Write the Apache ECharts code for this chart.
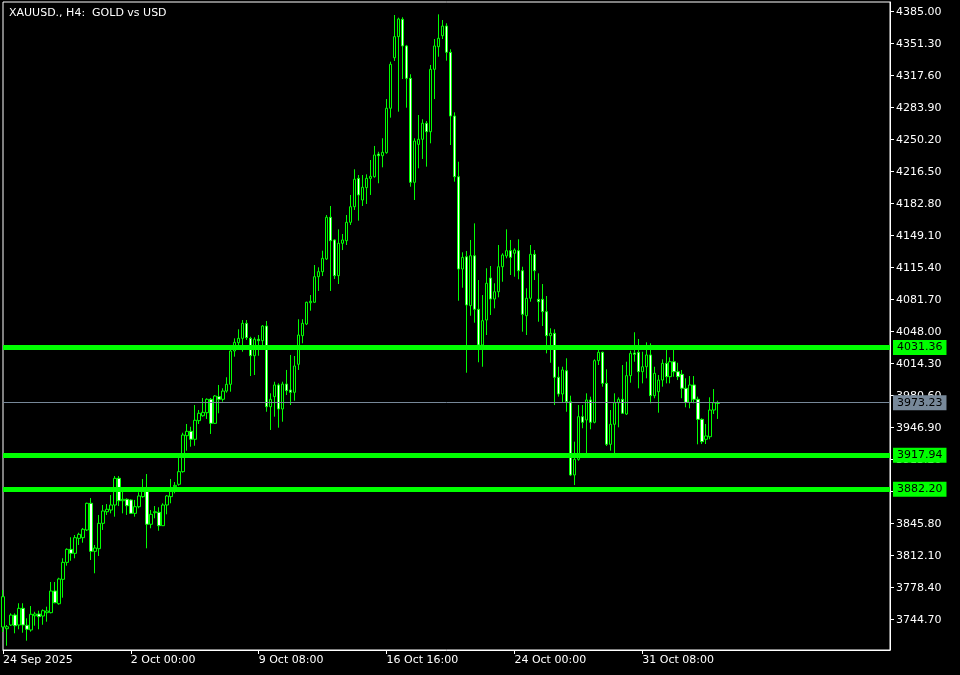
<!DOCTYPE html>
<html>
<head>
<meta charset="utf-8">
<style>
html,body{margin:0;padding:0;background:#000;}
#chart{width:960px;height:675px;}
</style>
<script src="https://cdn.jsdelivr.net/npm/echarts@6.0.0/dist/echarts.min.js"></script>
</head>
<body>
<div id="chart"></div>
<script>
// ---- data (XAUUSD H4, bars from 24 Sep 2025 16:00) ----
const openPrices = [
3737.0,3735.2,3739.1,3749.6,3739.1,3756.7,3738.8,3733.9,3748.9,3750.7,
3748.6,3752.1,3752.1,3774.9,3761.5,3787.2,3805.1,3818.8,3814.6,3830.4,
3831.1,3839.2,3867.3,3816.7,3819.5,3846.2,3858.4,3860.2,3865.5,3893.6,
3870.0,3871.5,3870.8,3856.7,3863.7,3874.3,3880.5,3845.2,3857.4,3857.8,
3843.7,3865.5,3874.3,3884.8,3887.3,3900.6,3938.5,3943.1,3934.7,3954.3,
3959.5,3962.7,3976.8,3951.5,3979.6,3976.8,3985.5,3992.6,4027.7,4036.4,
4041.0,4056.8,4041.0,4022.7,4040.0,4038.5,4054.0,3969.0,3979.6,3991.9,
3966.6,3992.9,3986.6,3984.2,4013.7,4043.8,4056.1,4078.5,4079.0,4105.9,
4111.2,4124.6,4168.5,4144.6,4107.0,4141.1,4143.8,4163.2,4179.6,4209.5,
4186.7,4199.7,4209.5,4211.2,4235.1,4233.3,4236.5,4283.3,4336.5,4358.7,
4377.0,4348.9,4314.8,4205.3,4245.3,4250.6,4267.5,4258.6,4324.3,4348.1,
4359.7,4369.9,4342.2,4275.1,4211.2,4114.0,4126.9,4075.4,4128.0,4071.6,
4034.0,4060.3,4104.5,4082.4,4090.1,4116.4,4127.7,4133.3,4130.6,4133.3,
4112.2,4064.8,4083.2,4129.5,4082.1,4082.1,4069.1,4043.8,4046.3,4000.0,
3982.4,4006.9,3974.3,3897.1,3913.6,3958.5,3955.0,3976.1,3952.6,4017.5,
4026.3,3993.6,3929.4,3950.5,3973.2,3976.8,3961.3,4001.7,4025.6,4026.3,
4005.9,4011.1,4023.5,3980.6,3984.8,3997.1,4014.7,4000.6,4016.4,4005.9,
4003.1,3988.4,3973.6,3991.9,3976.8,3955.7,3934.7,3937.4,3965.5,3972.4
];
const closePrices = [
3768.9,3737.3,3749.6,3738.4,3756.7,3739.1,3734.6,3750.4,3750.7,3747.9,
3754.2,3753.9,3774.9,3762.6,3787.6,3805.1,3818.8,3814.6,3831.1,3834.6,
3839.9,3867.3,3816.7,3820.2,3846.2,3859.2,3861.0,3865.5,3893.6,3870.0,
3871.5,3864.7,3856.7,3863.7,3875.0,3880.5,3845.2,3855.7,3858.4,3843.7,
3865.5,3875.0,3880.5,3886.2,3900.6,3939.2,3943.1,3934.7,3954.7,3962.1,
3963.1,3976.8,3951.5,3980.3,3976.8,3985.5,3992.6,4027.7,4036.8,4041.0,
4056.8,4041.7,4022.7,4040.0,4038.5,4054.0,3969.0,3976.8,3991.9,3966.6,
3992.9,3985.9,3984.2,4011.9,4044.5,4056.8,4079.0,4080.0,4105.9,4111.2,
4125.3,4168.5,4143.8,4107.0,4141.1,4144.6,4163.2,4179.6,4208.5,4192.0,
4200.1,4209.5,4211.6,4234.1,4233.3,4236.9,4283.3,4329.6,4358.7,4377.3,
4348.9,4314.8,4205.3,4248.8,4250.6,4267.5,4258.6,4324.3,4348.9,4357.0,
4369.9,4342.2,4275.1,4211.2,4114.0,4126.3,4076.1,4128.0,4071.6,4034.0,
4059.6,4099.0,4082.4,4090.1,4116.4,4128.8,4133.3,4126.3,4134.0,4112.2,
4066.3,4083.2,4129.5,4112.2,4079.6,4069.1,4043.8,4046.3,4000.0,3982.4,
4007.7,3974.3,3897.1,3913.6,3958.5,3952.6,3976.1,3952.6,4017.5,4026.3,
3993.6,3929.4,3950.5,3973.2,3976.8,3962.1,4001.7,4025.2,4024.2,4005.9,
4011.1,4023.5,3980.6,4004.2,3997.1,4014.7,4000.6,4016.4,4005.9,4000.6,
3988.4,3973.6,3991.9,3976.8,3955.7,3932.2,3938.2,3965.5,3973.2,3973.23
];
const lowPrices = [
3731.7,3717.3,3738.1,3730.4,3734.6,3731.0,3722.6,3732.1,3738.4,3734.6,
3739.4,3742.6,3751.4,3762.0,3760.5,3767.9,3801.6,3806.8,3809.4,3823.4,
3825.8,3838.1,3807.6,3793.6,3811.8,3839.2,3855.0,3856.7,3853.2,3864.4,
3856.7,3855.0,3856.0,3853.2,3862.0,3873.2,3819.9,3841.0,3851.5,3838.4,
3843.4,3855.7,3867.3,3877.8,3885.8,3899.5,3922.7,3926.9,3927.9,3950.8,
3958.5,3956.1,3940.3,3950.8,3962.1,3974.3,3983.8,3984.8,4021.7,4032.2,
4026.9,4039.3,4001.3,4002.4,4022.7,4034.0,3963.7,3944.5,3958.5,3946.9,
3953.2,3981.3,3970.8,3975.3,4007.7,4035.8,4055.0,4070.1,4078.5,4090.9,
4106.6,4123.5,4090.9,4103.5,4098.2,4134.0,4139.3,4160.4,4176.2,4164.9,
4180.4,4182.5,4192.0,4210.2,4204.3,4221.1,4235.4,4273.4,4333.1,4279.7,
4314.1,4283.9,4200.7,4186.7,4220.1,4229.9,4221.8,4246.4,4293.0,4337.6,
4356.2,4333.4,4244.6,4206.0,4080.6,4094.3,4004.8,4064.8,4057.5,4015.8,
4011.1,4044.5,4065.6,4072.6,4084.2,4100.6,4125.3,4107.7,4105.9,4103.2,
4048.0,4044.5,4079.6,4102.4,4058.5,4054.0,4025.2,4015.3,3970.8,3979.6,
3973.2,3963.7,3896.0,3886.5,3912.1,3946.3,3915.7,3945.2,3951.5,4012.9,
3990.1,3927.6,3922.7,3915.7,3947.3,3961.3,3960.3,3994.3,4016.4,3988.4,
3993.6,3998.9,3972.6,3977.9,3962.7,3990.1,3993.6,3993.6,4000.6,3997.1,
3977.9,3968.4,3967.3,3972.6,3929.4,3929.7,3929.7,3934.7,3961.3,3956.1
];
const highPrices = [
3776.0,3739.1,3751.4,3751.4,3762.0,3762.0,3746.2,3759.1,3753.1,3754.2,
3755.6,3758.4,3784.4,3784.4,3788.9,3809.4,3819.9,3831.5,3833.9,3836.3,
3841.3,3867.9,3872.9,3823.4,3855.0,3865.5,3866.5,3876.0,3896.0,3896.0,
3879.5,3872.5,3871.5,3870.8,3878.9,3892.9,3898.1,3860.2,3864.4,3863.1,
3867.3,3876.0,3892.9,3889.7,3916.4,3941.6,3950.8,3947.9,3970.8,3965.5,
3978.2,3977.9,3978.2,3981.3,3991.9,3988.4,4000.0,4028.7,4041.0,4050.5,
4060.3,4060.3,4042.7,4042.1,4044.5,4055.0,4059.3,3983.1,3995.3,3993.6,
3995.3,4007.7,4023.5,4022.4,4061.1,4061.1,4079.6,4086.6,4118.2,4115.8,
4133.3,4170.9,4180.4,4145.3,4155.8,4150.9,4170.9,4192.0,4219.0,4213.0,
4213.0,4213.7,4228.8,4243.6,4237.5,4251.7,4293.0,4332.3,4381.5,4378.7,
4379.1,4350.0,4319.1,4251.7,4276.2,4271.7,4269.9,4328.9,4356.2,4382.2,
4376.2,4372.8,4345.4,4279.0,4227.0,4131.6,4133.0,4144.6,4162.1,4102.4,
4086.6,4114.8,4117.2,4099.0,4139.3,4130.6,4155.8,4144.6,4135.8,4145.3,
4116.4,4093.7,4139.3,4134.0,4109.5,4098.2,4085.6,4051.6,4050.5,4011.1,
4011.1,4020.0,3980.6,3932.2,3970.8,3970.8,3983.1,3979.6,4018.9,4028.7,
4027.0,4008.4,3965.5,3983.1,3978.9,4012.9,4016.4,4028.0,4047.4,4040.3,
4026.9,4036.8,4035.8,4011.1,4002.4,4018.9,4028.7,4021.0,4028.7,4015.3,
4007.7,3998.9,4001.3,4001.3,3979.6,3956.8,3950.8,3978.9,3987.6,3975.3
];
const levelLines = [4031.36, 3917.94, 3882.20];
const currentPrice = 3973.23;
const yTickValues = [3744.70,3778.40,3812.10,3845.80,3879.50,3913.20,3946.90,3980.60,4014.30,4048.00,
  4081.70,4115.40,4149.10,4182.80,4216.50,4250.20,4283.90,4317.60,4351.30,4385.00];
const xTickLabels = [
  ['24 Sep 16:00', '24 Sep 2025'],
  ['2 Oct 00:00', '2 Oct 00:00'],
  ['9 Oct 08:00', '9 Oct 08:00'],
  ['16 Oct 16:00', '16 Oct 16:00'],
  ['24 Oct 00:00', '24 Oct 00:00'],
  ['31 Oct 08:00', '31 Oct 08:00']
];
const titleText = 'XAUUSD., H4:  GOLD vs USD';

// ---- categories: H4 bar times (Mon-Fri), incl. empty right-shift space ----
const MONTHS = ['Jan','Feb','Mar','Apr','May','Jun','Jul','Aug','Sep','Oct','Nov','Dec'];
const TOTAL_SLOTS = 223;
const categories = [];
let t = Date.UTC(2025, 8, 24, 16);
while (categories.length < TOTAL_SLOTS) {
  const d = new Date(t);
  const dow = d.getUTCDay();
  if (dow !== 0 && dow !== 6) {
    const hh = String(d.getUTCHours()).padStart(2, '0');
    categories.push(d.getUTCDate() + ' ' + MONTHS[d.getUTCMonth()] + ' ' + hh + ':00');
  }
  t += 4 * 3600 * 1000;
}
const tickMap = {};
xTickLabels.forEach(p => { tickMap[p[0]] = p[1]; });
const isTick = (idx, val) => Object.prototype.hasOwnProperty.call(tickMap, val);

const candleData = openPrices.map((o, k) => [o, closePrices[k], lowPrices[k], highPrices[k]]);

const FONT = 'DejaVu Sans';
const LIME = '#00ff00';
const SLATE = '#778899';

const markLineData = levelLines.map(v => ({
  yAxis: v,
  lineStyle: { color: LIME, width: 5, type: 'solid' },
  label: { backgroundColor: LIME }
}));
markLineData.push({
  yAxis: currentPrice,
  lineStyle: { color: SLATE, width: 1, type: 'solid' },
  label: { backgroundColor: SLATE }
});

const chart = echarts.init(document.getElementById('chart'), null, { renderer: 'canvas' });
chart.setOption({
  backgroundColor: '#000',
  animation: false,
  title: {
    text: titleText,
    left: 4, top: 3,
    textStyle: { color: '#fff', fontSize: 11, fontWeight: 'normal', fontFamily: FONT }
  },
  grid: {
    left: 2, top: 2, width: 888, height: 648,
    show: true, borderColor: '#fff', borderWidth: 1, backgroundColor: 'transparent'
  },
  xAxis: {
    type: 'category',
    data: categories,
    boundaryGap: false,
    axisLine: { show: true, lineStyle: { color: '#fff', width: 1 } },
    axisTick: { show: true, interval: isTick, length: 4, lineStyle: { color: '#fff' } },
    axisLabel: {
      show: true, interval: isTick, formatter: v => tickMap[v] || '',
      color: '#fff', fontSize: 11, fontFamily: FONT, align: 'left', margin: 5
    },
    splitLine: { show: false }
  },
  yAxis: {
    type: 'value',
    position: 'right',
    min: 3712.8,
    max: 4395.2,
    scale: true,
    axisLine: { show: true, lineStyle: { color: '#fff', width: 1 } },
    axisTick: { show: true, length: 4, customValues: yTickValues, lineStyle: { color: '#fff' } },
    axisLabel: {
      show: true, customValues: yTickValues, formatter: v => Number(v).toFixed(2),
      color: '#fff', fontSize: 11, fontFamily: FONT, margin: 6
    },
    splitLine: { show: false }
  },
  series: [{
    type: 'candlestick',
    data: candleData,
    barWidth: 3,
    itemStyle: {
      color: '#000',
      color0: '#fff',
      borderColor: LIME,
      borderColor0: LIME,
      borderWidth: 1
    },
    markLine: {
      silent: true,
      symbol: ['none', 'none'],
      animation: false,
      label: {
        show: true,
        position: 'end',
        distance: 3,
        formatter: p => Number(p.value).toFixed(2),
        color: '#000',
        fontSize: 11,
        fontFamily: FONT,
        padding: [2, 4, 1, 4],
        lineHeight: 12
      },
      emphasis: { disabled: true },
      data: markLineData
    }
  }]
});
</script>
</body>
</html>
